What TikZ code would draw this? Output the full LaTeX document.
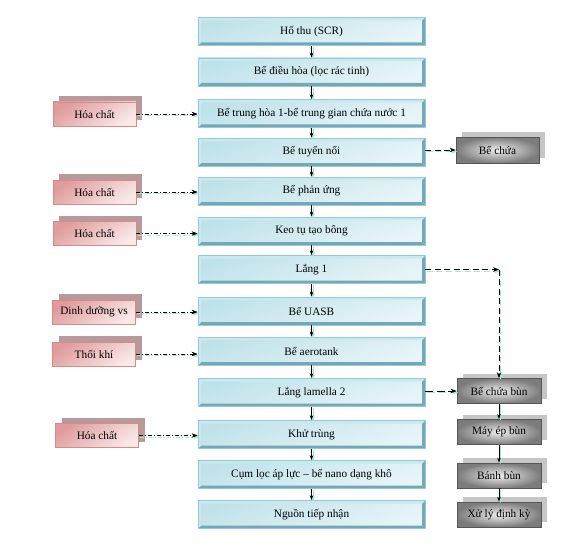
\documentclass[tikz,border=0pt]{standalone}
\usepackage{fontspec}
\setmainfont{Liberation Serif}
\usetikzlibrary{arrows.meta,shadows}
\definecolor{mfillA}{HTML}{BFE2EA}
\definecolor{mfillB}{HTML}{E8F5F8}
\definecolor{mbord}{HTML}{92CCD9}
\definecolor{mdark}{HTML}{74A8B6}
\definecolor{mlight}{HTML}{CBE8EF}
\definecolor{pA}{HTML}{E09C9C}
\definecolor{pB}{HTML}{F9E8E8}
\definecolor{pbord}{HTML}{D88A8A}
\definecolor{pshad}{HTML}{B89A9A}
\definecolor{gA}{HTML}{7C7C7C}
\definecolor{gB}{HTML}{EEEEEE}
\definecolor{gbord}{HTML}{555555}
\definecolor{gshad}{HTML}{C6C6C6}
\definecolor{cshad}{HTML}{A8E8CA}
\begin{document}
\begin{tikzpicture}[x=1pt,y=-1pt,font=\fontsize{11.3}{13}\selectfont,
  mainbox/.style={draw=mbord,line width=0.8pt,top color=mfillA,bottom color=mfillB,shading angle=20,
    minimum width=227pt,minimum height=28pt,inner sep=0pt,
    path picture={
      \fill[mdark] (path picture bounding box.south west) -- (path picture bounding box.south east)
        -- ([xshift=-3pt,yshift=3pt]path picture bounding box.south east)
        -- ([xshift=3pt,yshift=3pt]path picture bounding box.south west) -- cycle;
      \fill[mdark] (path picture bounding box.south east) -- (path picture bounding box.north east)
        -- ([xshift=-3pt,yshift=-3pt]path picture bounding box.north east)
        -- ([xshift=-3pt,yshift=3pt]path picture bounding box.south east) -- cycle;
      \fill[mlight] (path picture bounding box.north west) -- (path picture bounding box.north east)
        -- ([xshift=-3pt,yshift=-3pt]path picture bounding box.north east)
        -- ([xshift=3pt,yshift=-3pt]path picture bounding box.north west) -- cycle;
      \fill[mlight] (path picture bounding box.north west) -- (path picture bounding box.south west)
        -- ([xshift=3pt,yshift=3pt]path picture bounding box.south west)
        -- ([xshift=3pt,yshift=-3pt]path picture bounding box.north west) -- cycle;
    }},
  pinkbox/.style={draw=pbord,line width=0.8pt,top color=pA,bottom color=pB,shading angle=35,
    minimum width=83pt,minimum height=24pt,inner sep=0pt,
    general shadow={fill=pshad,shadow xshift=6pt,shadow yshift=6pt}},
  graybox/.style={draw=gbord,line width=0.8pt,inner color=gB,outer color=gA,
    minimum width=84pt,minimum height=25pt,inner sep=0pt,
    general shadow={fill=gshad,shadow xshift=6pt,shadow yshift=5pt}},
  shd/.style={preaction={draw=cshad,line width=0.9pt,#1,transform canvas={xshift=1.5pt,yshift=-1.5pt}}},
  varrow/.style={shd={solid},draw=black,line width=0.6pt,-{Stealth[length=5pt,width=3.5pt]}},
  dotarrow/.style={shd={dash pattern=on 4pt off 2pt on 1pt off 2pt},draw=black,line width=0.6pt,
    dash pattern=on 4pt off 2pt on 1pt off 2pt,-{Stealth[length=6pt,width=4.5pt]}},
  dasharrow/.style={shd={dash pattern=on #1 off 3.5pt},draw=black,line width=0.7pt,
    dash pattern=on #1 off 3.5pt,-{Stealth[length=6pt,width=4.5pt]}},
  dasharrow/.default=6pt
]
\fill[white] (0,0) rectangle (579,551);
\useasboundingbox (0,0) rectangle (579,551);

% main column
\node[mainbox] (m1) at (311.5,31.5) {Hố thu (SCR)};
\node[mainbox] (m2) at (311.5,72) {Bể điều hòa (lọc rác tinh)};
\node[mainbox] (m3) at (311.5,113.5) {Bể trung hòa 1-bể trung gian chứa nước 1};
\node[mainbox] (m4) at (311.5,152) {Bể tuyển nổi};
\node[mainbox] (m5) at (311.5,191) {Bể phản ứng};
\node[mainbox] (m6) at (311.5,231) {Keo tụ tạo bông};
\node[mainbox] (m7) at (311.5,269.5) {Lắng 1};
\node[mainbox] (m8) at (311.5,311) {Bể UASB};
\node[mainbox] (m9) at (311.5,351) {Bể aerotank};
\node[mainbox] (m10) at (311.5,392.5) {Lắng lamella 2};
\node[mainbox] (m11) at (311.5,434.5) {Khử trùng};
\node[mainbox] (m12) at (311.5,474.5) {Cụm lọc áp lực – bể nano dạng khô};
\node[mainbox] (m13) at (311.5,514.5) {Nguồn tiếp nhận};

\foreach \a/\b in {m1/m2,m2/m3,m3/m4,m4/m5,m5/m6,m6/m7,m7/m8,m8/m9,m9/m10,m10/m11,m11/m12,m12/m13}
  \draw[varrow] (\a.south) -- (\b.north);

% left inputs
\node[pinkbox] (l1) at (94.5,114) {Hóa chất};
\node[pinkbox] (l2) at (94.5,192) {Hóa chất};
\node[pinkbox] (l3) at (94.5,233.5) {Hóa chất};
\node[pinkbox] (l4) at (94,312) {Dinh dưỡng vs};
\node[pinkbox] (l5) at (94,354) {Thổi khí};
\node[pinkbox] (l6) at (97,435.5) {Hóa chất};

\draw[dotarrow] (l1.east) -- (m3.west |- l1.east);
\draw[dotarrow] (l2.east) -- (m5.west |- l2.east);
\draw[dotarrow] (l3.east) -- (m6.west |- l3.east);
\draw[dotarrow] (l4.east) -- (m8.west |- l4.east);
\draw[dotarrow] (l5.east) -- (m9.west |- l5.east);
\draw[dotarrow] (l6.east) -- (m11.west |- l6.east);

% right side
\node[graybox,minimum width=83pt,minimum height=26pt] (r0) at (497.5,150) {Bể chứa};
\node[graybox] (r1) at (499,391) {Bể chứa bùn};
\node[graybox] (r2) at (499,432) {Máy ép bùn};
\node[graybox] (r3) at (499,475.5) {Bánh bùn};
\node[graybox] (r4) at (499,514.5) {Xử lý định kỳ};

\draw[dasharrow] (m4.east |- r0.west) -- (r0.west);
\coordinate (c1) at (r1.north |- m7.east);
\draw[dasharrow] (m7.east) -- (c1);
\draw[dasharrow] (c1) -- (r1.north);
\draw[dasharrow=8pt] (m10.east |- r1.west) -- (r1.west);

\draw[varrow] (r1.south) -- (r2.north);
\draw[varrow] (r2.south) -- (r3.north);
\draw[varrow] (r3.south) -- (r4.north);
\end{tikzpicture}
\end{document}
